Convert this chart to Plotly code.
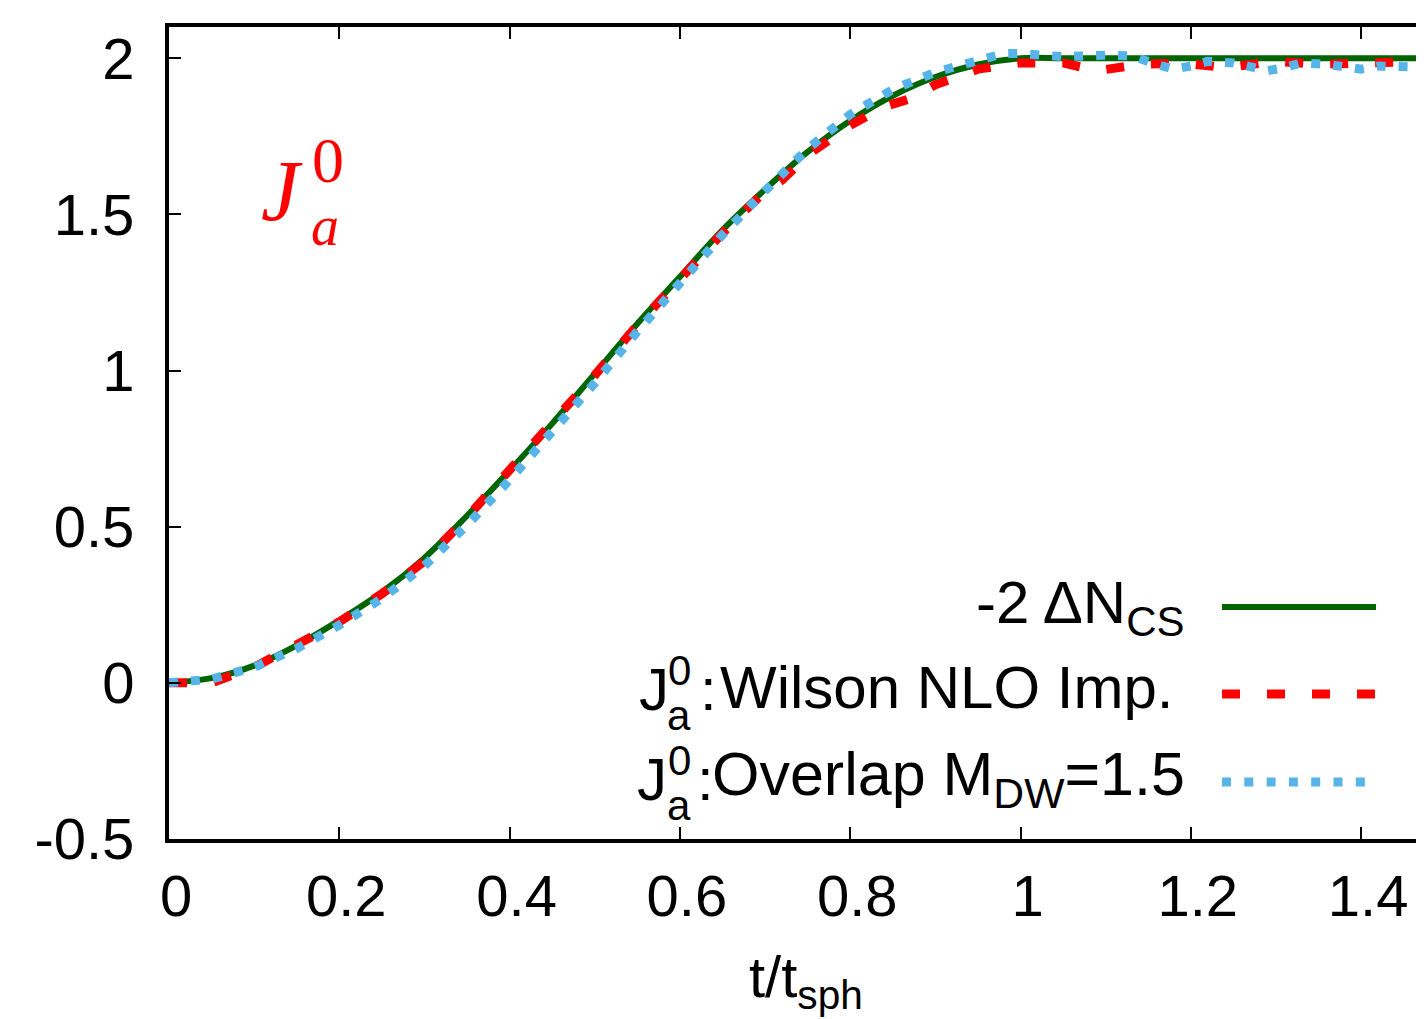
import plotly.graph_objects as go

# ---------------- data ----------------
t_cs = [0.0, 0.05, 0.10, 0.15, 0.20, 0.25, 0.30, 0.35, 0.40, 0.45, 0.50,
        0.55, 0.60, 0.65, 0.70, 0.75, 0.80, 0.85, 0.90, 0.95, 1.00,
        1.05, 1.10, 1.15, 1.20, 1.25, 1.30, 1.35, 1.40, 1.45, 1.50]
ncs = [0.0, 0.015, 0.055, 0.12, 0.20, 0.29, 0.40, 0.535, 0.68, 0.83, 0.99,
       1.15, 1.30, 1.45, 1.58, 1.70, 1.80, 1.88, 1.94, 1.98, 2.0,
       2.0, 2.0, 2.0, 2.0, 2.0, 2.0, 2.0, 2.0, 2.0, 2.0]

t_wil = [0.0, 0.05, 0.10, 0.15, 0.20, 0.25, 0.30, 0.35, 0.40, 0.45, 0.50,
         0.55, 0.60, 0.65, 0.70, 0.72, 0.75, 0.80, 0.84, 0.87, 0.90, 0.95,
         1.00, 1.05, 1.09, 1.14, 1.19, 1.24, 1.30, 1.35, 1.40, 1.45, 1.50]
wil = [0.0, 0.0, 0.05, 0.125, 0.195, 0.285, 0.39, 0.53, 0.68, 0.825, 0.985,
       1.145, 1.295, 1.44, 1.575, 1.61, 1.69, 1.785, 1.845, 1.87, 1.915, 1.965,
       1.985, 1.985, 1.96, 1.98, 1.985, 1.97, 1.99, 1.98, 1.985, 1.99, 1.99]

t_ovl = [0.0, 0.05, 0.10, 0.15, 0.20, 0.25, 0.30, 0.35, 0.40, 0.45, 0.50,
         0.55, 0.60, 0.65, 0.70, 0.75, 0.80, 0.85, 0.90, 0.95, 0.98, 1.00,
         1.05, 1.10, 1.13, 1.16, 1.18, 1.20, 1.22, 1.25, 1.27, 1.29, 1.31,
         1.33, 1.36, 1.38, 1.40, 1.42, 1.50]
ovl = [0.0, 0.012, 0.05, 0.11, 0.185, 0.27, 0.375, 0.505, 0.65, 0.80, 0.96,
       1.125, 1.28, 1.435, 1.575, 1.71, 1.82, 1.90, 1.955, 1.995, 2.015, 2.015,
       2.005, 2.01, 2.008, 1.98, 1.965, 1.975, 1.99, 1.985, 1.97, 1.96, 1.97,
       1.985, 1.98, 1.97, 1.965, 1.975, 1.97]

x_ticks = [0, 0.2, 0.4, 0.6, 0.8, 1.0, 1.2, 1.4]
x_ticktext = ["0", "0.2", "0.4", "0.6", "0.8", "1", "1.2", "1.4"]
y_ticks = [-0.5, 0, 0.5, 1, 1.5, 2]
y_ticktext = ["-0.5", "0", "0.5", "1", "1.5", "2"]

legend_row1 = "-2 ΔN<sub>CS</sub>"
legend_row2 = "Wilson NLO Imp."
legend_row3 = "Overlap M<sub>DW</sub>=1.5"

# ---------------- layout geometry ----------------
OFF = 8                      # page offset of the plot div (body margin)
W, H = 1424 - OFF, 1019 - OFF
L, T, B = 161, 19, 180
PW = W - L
PH = H - T - B
XMAX = PW / 851.5

def px(xs):                   # screen x -> paper
    return (xs - OFF - L) / PW

def py(ys):                   # screen y -> paper
    return (H - B - (ys - OFF)) / PH

GREEN = "#006400"
RED = "#ff0000"
BLUE = "#56b4e9"
FONT = "Liberation Sans, Arial, Helvetica, sans-serif"
FS = 58
LFS = 60

fig = go.Figure()
fig.add_trace(go.Scatter(x=t_cs, y=ncs, mode="lines", line=dict(color=GREEN, width=6, shape="spline"),
                         showlegend=False))
fig.add_trace(go.Scatter(x=t_wil, y=wil, mode="lines", line=dict(color=RED, width=9, dash="18px,27px"),
                         showlegend=False))
fig.add_trace(go.Scatter(x=t_ovl, y=ovl, mode="lines", line=dict(color=BLUE, width=9, dash="9px,13px"),
                         showlegend=False))

fig.update_layout(
    width=W, height=H,
    margin=dict(l=L, r=0, t=T, b=B),
    paper_bgcolor="white", plot_bgcolor="white",
    font=dict(family=FONT, size=FS, color="black"),
    showlegend=False,
)
fig.update_xaxes(range=[0, XMAX], tickvals=x_ticks, ticktext=x_ticktext,
                 showgrid=False, zeroline=False, showline=True, linecolor="black", linewidth=4,
                 mirror="ticks", ticks="inside", ticklen=12, tickwidth=2, tickcolor="black",
                 ticklabelstandoff=3, ticklabelshift=7)
fig.update_yaxes(range=[-0.5, 2.1], tickvals=y_ticks, ticktext=y_ticktext,
                 showgrid=False, zeroline=False, showline=True, linecolor="black", linewidth=4,
                 mirror=False, ticks="inside", ticklen=12, tickwidth=2, tickcolor="black",
                 ticklabelstandoff=19)

def note(text, xs, ys, size, xanchor="center", color="black", family=FONT):
    return dict(text=text, x=px(xs), y=py(ys), xref="paper", yref="paper",
                xanchor=xanchor, yanchor="middle", showarrow=False, borderpad=0,
                font=dict(family=family, size=size, color=color))

ann = []
# x-axis title
ann.append(note("t/t<sub>sph</sub>", 806, 981, FS))

# J_a^0 label (red, math style)
SERIF = "Liberation Serif, Times New Roman, serif"
ann.append(note("<i>J</i>", 282, 191, 86, color=RED, family=SERIF))
ann.append(note("0", 328, 160, 64, color=RED, family=SERIF))
ann.append(note("<i>a</i>", 325, 226, 56, color=RED, family=SERIF))

# custom legend (text right-aligned, keys to the right)
ann.append(note(legend_row1, 1185, 607, LFS, xanchor="right"))
ann.append(note(legend_row2, 1174, 687, LFS, xanchor="right"))
ann.append(note(legend_row3, 1186, 778, 61, xanchor="right"))

# J with stacked superscript 0 and subscript a, then colon
for yc, xj, x0, xc in [(689, 670, 692, 708.5), (779, 668, 692, 705.5)]:
    ann.append(note("J", xj, yc, LFS, xanchor="right"))
    ann.append(note("0", x0, yc - 19, 42, xanchor="right"))
    ann.append(note("a", x0, yc + 26, 42, xanchor="right"))
    ann.append(note(":", xc, yc, LFS, xanchor="center"))

fig.update_layout(annotations=ann)

shapes = [
    dict(type="line", xref="paper", yref="paper", x0=px(1222), x1=px(1376), y0=py(607), y1=py(607),
         line=dict(color=GREEN, width=6)),
    dict(type="line", xref="paper", yref="paper", x0=px(1222), x1=px(1375), y0=py(694), y1=py(694),
         line=dict(color=RED, width=9, dash="18px,27px")),
    dict(type="line", xref="paper", yref="paper", x0=px(1222), x1=px(1365), y0=py(782), y1=py(782),
         line=dict(color=BLUE, width=9, dash="9px,13.3px")),
]
fig.update_layout(shapes=shapes)

fig.write_html("out.html")
